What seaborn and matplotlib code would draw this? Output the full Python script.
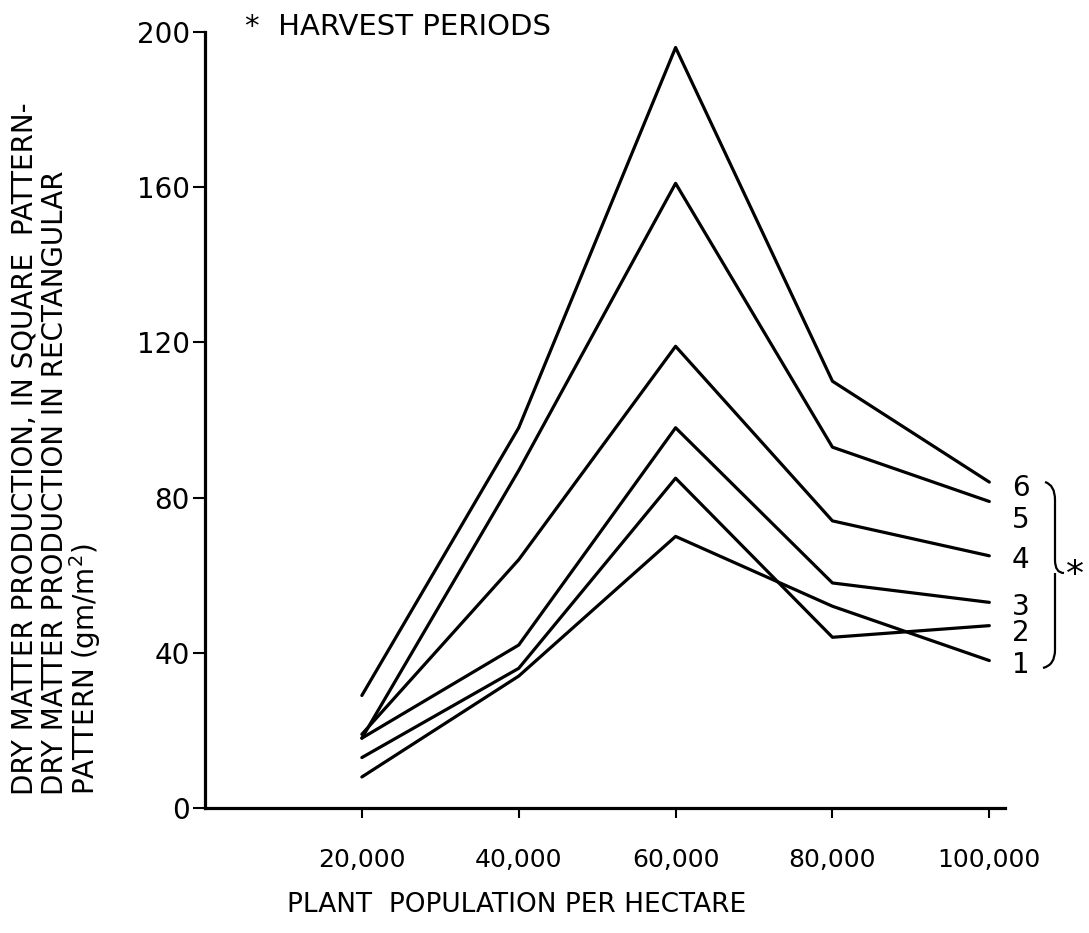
import matplotlib
matplotlib.use("Agg")
import matplotlib.pyplot as plt
import seaborn as sns
import pandas as pd
from matplotlib.path import Path
from matplotlib.patches import PathPatch

# ---- data ----
population = [20000, 40000, 60000, 80000, 100000]
period_1 = [8, 34, 70, 52, 38]
period_2 = [13, 36, 85, 44, 47]
period_3 = [18, 42, 98, 58, 53]
period_4 = [19, 64, 119, 74, 65]
period_5 = [18, 87, 161, 93, 79]
period_6 = [29, 98, 196, 110, 84]
period_names = ["1", "2", "3", "4", "5", "6"]
x_tick_labels = ["20,000", "40,000", "60,000", "80,000", "100,000"]
y_ticks = [0, 40, 80, 120, 160, 200]

series = [period_1, period_2, period_3, period_4, period_5, period_6]
df = pd.DataFrame({
    "population": population * len(series),
    "value": sum(series, []),
    "period": [n for n in period_names for _ in population],
})

sns.set_style("ticks")
plt.rcParams["font.family"] = ["DejaVu Sans"]
plt.rcParams["text.color"] = "black"
plt.rcParams["axes.labelcolor"] = "black"
plt.rcParams["xtick.color"] = "black"
plt.rcParams["ytick.color"] = "black"
plt.rcParams["axes.edgecolor"] = "black"

fig = plt.figure(figsize=(10.89, 9.33), dpi=100)
ax = fig.add_axes([205 / 1089, 125 / 933, 800 / 1089, 776 / 933])

sns.lineplot(data=df, x="population", y="value", hue="period",
             palette=["black"] * 6, linewidth=2.3, legend=False, ax=ax,
             estimator=None, sort=False)

ax.set_xlim(0, 102000)
ax.set_ylim(0, 200)
ax.set_xticks(population)
ax.set_xticklabels(x_tick_labels, fontsize=18)
ax.set_yticks(y_ticks)
ax.set_yticklabels([str(v) for v in y_ticks], fontsize=20)
ax.tick_params(axis="x", direction="out", length=7, width=1.5, pad=22)
ax.tick_params(axis="y", direction="out", length=9, width=1.5, pad=2)
for s in ["top", "right"]:
    ax.spines[s].set_visible(False)
for s in ["left", "bottom"]:
    ax.spines[s].set_linewidth(2.3)
ax.set_xlabel("PLANT  POPULATION PER HECTARE", fontsize=19)
ax.xaxis.set_label_coords((517 - 205) / 800, -0.108)
ax.set_ylabel("")

# series labels at line ends
label_y = [36.9, 45.2, 51.9, 64, 74.3, 82.6]
for name, yy in zip(period_names, label_y):
    ax.text(102900, yy, name, fontsize=20, ha="left", va="center", clip_on=False)

# curly brace
def fx(px):
    return (px - 205) / 800
def fy(py):
    return (808 - py) / 776
verts = [(fx(1045), fy(482)), (fx(1055), fy(485)), (fx(1055), fy(500)),
         (fx(1055), fy(560)),
         (fx(1055), fy(573)), (fx(1064), fy(573)),
         (fx(1055), fy(573)), (fx(1055), fy(586)),
         (fx(1055), fy(650)),
         (fx(1055), fy(665)), (fx(1043), fy(668))]
codes = [Path.MOVETO, Path.CURVE3, Path.CURVE3, Path.LINETO,
         Path.CURVE3, Path.CURVE3, Path.MOVETO, Path.CURVE3,
         Path.LINETO, Path.CURVE3, Path.CURVE3]
ax.add_patch(PathPatch(Path(verts, codes), transform=ax.transAxes, fill=False,
                       lw=1.6, color="black", clip_on=False))
ax.text(fx(1075), fy(575), "*", transform=ax.transAxes, fontsize=26,
        ha="center", va="center", clip_on=False)

# title
fig.text(245 / 1089, 1 - 27 / 933, "*  HARVEST PERIODS", fontsize=21,
         ha="left", va="center")

# y label (three lines)
ylines = ["DRY MATTER PRODUCTION, IN SQUARE  PATTERN-",
          "DRY MATTER PRODUCTION IN RECTANGULAR",
          "PATTERN (gm/m$^2$)"]
for i, t in enumerate(ylines):
    fig.text((25 + 30 * i) / 1089, 1 - 795 / 933, t, rotation=90,
             fontsize=20, ha="center", va="bottom")

fig.savefig("out.png", dpi=100)
